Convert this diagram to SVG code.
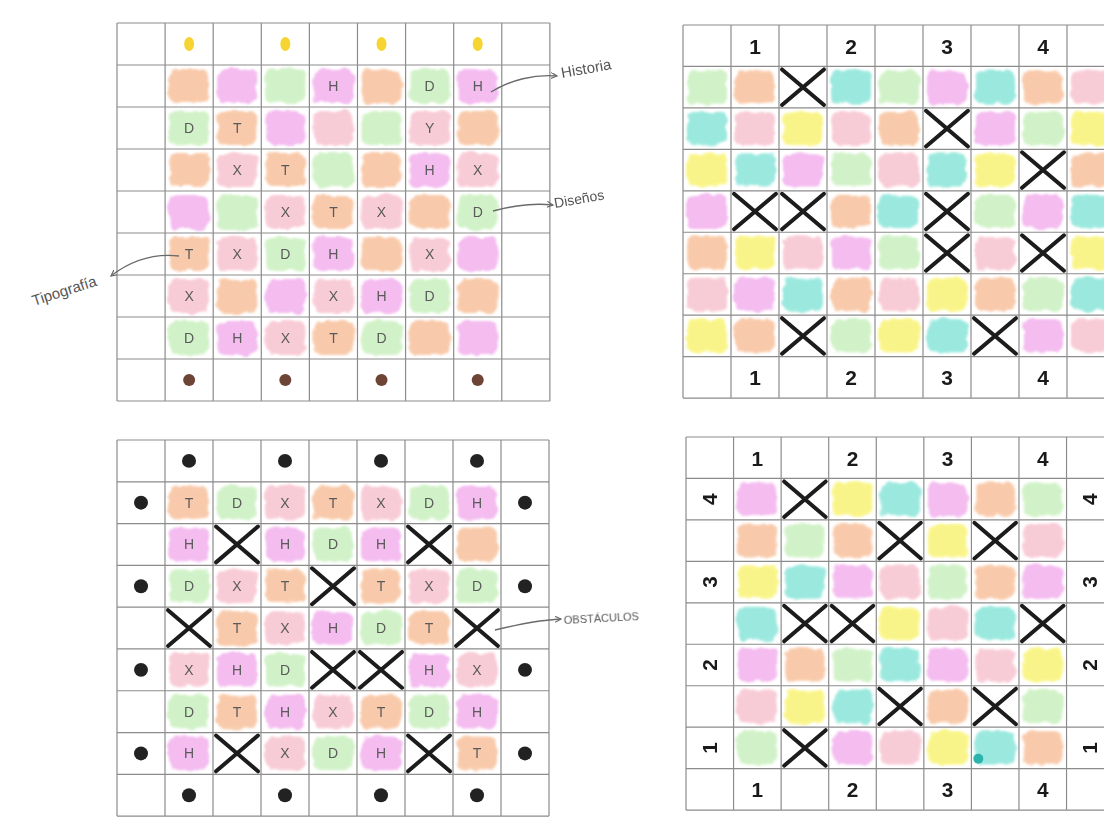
<svg xmlns="http://www.w3.org/2000/svg" xmlns:xlink="http://www.w3.org/1999/xlink" width="1104" height="819" viewBox="0 0 1104 819">
<style>
.bg{fill:#ffffff}
.gl{fill:none;stroke:#8c8c8c;stroke-width:1.2}
.o{fill:#f8c6a4}
.v{fill:#f3b6ee}
.g{fill:#cdf1c3}
.p{fill:#f8c8d4}
.c{fill:#93e7dc}
.y{fill:#f9f47f}
.xm{fill:none;stroke:#1c1c1c;stroke-width:4;stroke-linecap:round}
.t{font-family:"Liberation Sans",Arial,sans-serif;font-size:14px;fill:#5a5a5a;text-anchor:middle}
.n{font-family:"Liberation Sans",Arial,sans-serif;font-size:21px;font-weight:bold;fill:#1a1a1a;text-anchor:middle}
.dk{fill:#222222}
.br{fill:#6e4436}
.yd{fill:#f6d532}
.lbl{font-family:"Liberation Sans",Arial,sans-serif;fill:#555555}
.conn{fill:none;stroke:#6a6a6a;stroke-width:1.3}
</style>
<defs>
<path id="grid" d="M0 0H432M0 42H432M0 84H432M0 126H432M0 168H432M0 210H432M0 252H432M0 294H432M0 336H432M0 378H432M0 0V378M48 0V378M96 0V378M144 0V378M192 0V378M240 0V378M288 0V378M336 0V378M384 0V378M432 0V378"/>
<rect id="pt" width="40" height="34" rx="8"/>
<path id="xm" d="M3 3L45 39M45 3L3 39"/>
<circle id="dot" r="7"/>
<ellipse id="ydot" rx="5" ry="7"/>
<filter id="rough" x="-5%" y="-5%" width="110%" height="110%">
<feTurbulence type="fractalNoise" baseFrequency="0.09" numOctaves="2" seed="4" result="n"/>
<feDisplacementMap in="SourceGraphic" in2="n" scale="7" xChannelSelector="R" yChannelSelector="G" result="d"/>
<feGaussianBlur in="d" stdDeviation="0.9"/>
</filter>
<marker id="arr" markerWidth="8" markerHeight="8" refX="6" refY="3" orient="auto" markerUnits="userSpaceOnUse">
<path d="M0 0L6 3L0 6" fill="none" stroke="#6a6a6a" stroke-width="1.2"/>
</marker>
</defs>
<rect class="bg" width="1104" height="819"/>

<g id="grid-top-left" transform="translate(117,23) scale(1.002,1)">
<g filter="url(#rough)" opacity="0.92">
<use href="#pt" x="52" y="46" class="o"/><use href="#pt" x="100" y="46" class="v"/><use href="#pt" x="148" y="46" class="g"/><use href="#pt" x="196" y="46" class="v"/><use href="#pt" x="244" y="46" class="o"/><use href="#pt" x="292" y="46" class="g"/><use href="#pt" x="340" y="46" class="v"/>
<use href="#pt" x="52" y="88" class="g"/><use href="#pt" x="100" y="88" class="o"/><use href="#pt" x="148" y="88" class="v"/><use href="#pt" x="196" y="88" class="p"/><use href="#pt" x="244" y="88" class="g"/><use href="#pt" x="292" y="88" class="p"/><use href="#pt" x="340" y="88" class="o"/>
<use href="#pt" x="52" y="130" class="o"/><use href="#pt" x="100" y="130" class="p"/><use href="#pt" x="148" y="130" class="o"/><use href="#pt" x="196" y="130" class="g"/><use href="#pt" x="244" y="130" class="o"/><use href="#pt" x="292" y="130" class="v"/><use href="#pt" x="340" y="130" class="p"/>
<use href="#pt" x="52" y="172" class="v"/><use href="#pt" x="100" y="172" class="g"/><use href="#pt" x="148" y="172" class="p"/><use href="#pt" x="196" y="172" class="o"/><use href="#pt" x="244" y="172" class="p"/><use href="#pt" x="292" y="172" class="o"/><use href="#pt" x="340" y="172" class="g"/>
<use href="#pt" x="52" y="214" class="o"/><use href="#pt" x="100" y="214" class="p"/><use href="#pt" x="148" y="214" class="g"/><use href="#pt" x="196" y="214" class="v"/><use href="#pt" x="244" y="214" class="o"/><use href="#pt" x="292" y="214" class="p"/><use href="#pt" x="340" y="214" class="v"/>
<use href="#pt" x="52" y="256" class="p"/><use href="#pt" x="100" y="256" class="o"/><use href="#pt" x="148" y="256" class="v"/><use href="#pt" x="196" y="256" class="p"/><use href="#pt" x="244" y="256" class="v"/><use href="#pt" x="292" y="256" class="g"/><use href="#pt" x="340" y="256" class="o"/>
<use href="#pt" x="52" y="298" class="g"/><use href="#pt" x="100" y="298" class="v"/><use href="#pt" x="148" y="298" class="p"/><use href="#pt" x="196" y="298" class="o"/><use href="#pt" x="244" y="298" class="g"/><use href="#pt" x="292" y="298" class="o"/><use href="#pt" x="340" y="298" class="v"/>
</g>
<use href="#grid" class="gl"/>
<use href="#ydot" x="72" y="21" class="yd"/><use href="#ydot" x="168" y="21" class="yd"/><use href="#ydot" x="264" y="21" class="yd"/><use href="#ydot" x="360" y="21" class="yd"/>
<circle cx="72" cy="357" r="6" class="br"/><circle cx="168" cy="357" r="6" class="br"/><circle cx="264" cy="357" r="6" class="br"/><circle cx="360" cy="357" r="6" class="br"/>
<g class="t">
<text x="216" y="68">H</text><text x="312" y="68">D</text><text x="360" y="68">H</text>
<text x="72" y="110">D</text><text x="120" y="110">T</text><text x="312" y="110">Y</text>
<text x="120" y="152">X</text><text x="168" y="152">T</text><text x="312" y="152">H</text><text x="360" y="152">X</text>
<text x="168" y="194">X</text><text x="216" y="194">T</text><text x="264" y="194">X</text><text x="360" y="194">D</text>
<text x="72" y="236">T</text><text x="120" y="236">X</text><text x="168" y="236">D</text><text x="216" y="236">H</text><text x="312" y="236">X</text>
<text x="72" y="278">X</text><text x="216" y="278">X</text><text x="264" y="278">H</text><text x="312" y="278">D</text>
<text x="72" y="320">D</text><text x="120" y="320">H</text><text x="168" y="320">X</text><text x="216" y="320">T</text><text x="264" y="320">D</text>
</g>
</g>

<g id="grid-top-right" transform="translate(683,25) scale(1,0.987)">
<g filter="url(#rough)" opacity="0.92">
<use href="#pt" x="4" y="46" class="g"/><use href="#pt" x="52" y="46" class="o"/><use href="#pt" x="148" y="46" class="c"/><use href="#pt" x="196" y="46" class="g"/><use href="#pt" x="244" y="46" class="v"/><use href="#pt" x="292" y="46" class="c"/><use href="#pt" x="340" y="46" class="o"/><use href="#pt" x="388" y="46" class="p"/>
<use href="#pt" x="4" y="88" class="c"/><use href="#pt" x="52" y="88" class="p"/><use href="#pt" x="100" y="88" class="y"/><use href="#pt" x="148" y="88" class="p"/><use href="#pt" x="196" y="88" class="o"/><use href="#pt" x="292" y="88" class="v"/><use href="#pt" x="340" y="88" class="g"/><use href="#pt" x="388" y="88" class="y"/>
<use href="#pt" x="4" y="130" class="y"/><use href="#pt" x="52" y="130" class="c"/><use href="#pt" x="100" y="130" class="v"/><use href="#pt" x="148" y="130" class="g"/><use href="#pt" x="196" y="130" class="p"/><use href="#pt" x="244" y="130" class="c"/><use href="#pt" x="292" y="130" class="y"/><use href="#pt" x="388" y="130" class="o"/>
<use href="#pt" x="4" y="172" class="v"/><use href="#pt" x="148" y="172" class="o"/><use href="#pt" x="196" y="172" class="c"/><use href="#pt" x="292" y="172" class="g"/><use href="#pt" x="340" y="172" class="v"/><use href="#pt" x="388" y="172" class="c"/>
<use href="#pt" x="4" y="214" class="o"/><use href="#pt" x="52" y="214" class="y"/><use href="#pt" x="100" y="214" class="p"/><use href="#pt" x="148" y="214" class="v"/><use href="#pt" x="196" y="214" class="g"/><use href="#pt" x="292" y="214" class="p"/><use href="#pt" x="388" y="214" class="y"/>
<use href="#pt" x="4" y="256" class="p"/><use href="#pt" x="52" y="256" class="v"/><use href="#pt" x="100" y="256" class="c"/><use href="#pt" x="148" y="256" class="o"/><use href="#pt" x="196" y="256" class="p"/><use href="#pt" x="244" y="256" class="y"/><use href="#pt" x="292" y="256" class="o"/><use href="#pt" x="340" y="256" class="g"/><use href="#pt" x="388" y="256" class="c"/>
<use href="#pt" x="4" y="298" class="y"/><use href="#pt" x="52" y="298" class="o"/><use href="#pt" x="148" y="298" class="g"/><use href="#pt" x="196" y="298" class="y"/><use href="#pt" x="244" y="298" class="c"/><use href="#pt" x="340" y="298" class="v"/><use href="#pt" x="388" y="298" class="p"/>
</g>
<use href="#grid" class="gl"/>
<g class="xm">
<use href="#xm" x="96" y="42"/><use href="#xm" x="240" y="84"/><use href="#xm" x="336" y="126"/><use href="#xm" x="48" y="168"/><use href="#xm" x="96" y="168"/><use href="#xm" x="240" y="168"/><use href="#xm" x="240" y="210"/><use href="#xm" x="336" y="210"/><use href="#xm" x="96" y="294"/><use href="#xm" x="288" y="294"/>
</g>
<g class="n">
<text x="72" y="29">1</text><text x="168" y="29">2</text><text x="264" y="29">3</text><text x="360" y="29">4</text>
<text x="72" y="365">1</text><text x="168" y="365">2</text><text x="264" y="365">3</text><text x="360" y="365">4</text>
</g>
</g>

<g id="grid-bottom-left" transform="translate(117,440) scale(1,0.995)">
<g filter="url(#rough)" opacity="0.92">
<use href="#pt" x="52" y="46" class="o"/><use href="#pt" x="100" y="46" class="g"/><use href="#pt" x="148" y="46" class="p"/><use href="#pt" x="196" y="46" class="o"/><use href="#pt" x="244" y="46" class="p"/><use href="#pt" x="292" y="46" class="g"/><use href="#pt" x="340" y="46" class="v"/>
<use href="#pt" x="52" y="88" class="v"/><use href="#pt" x="148" y="88" class="v"/><use href="#pt" x="196" y="88" class="g"/><use href="#pt" x="244" y="88" class="v"/><use href="#pt" x="340" y="88" class="o"/>
<use href="#pt" x="52" y="130" class="g"/><use href="#pt" x="100" y="130" class="p"/><use href="#pt" x="148" y="130" class="o"/><use href="#pt" x="244" y="130" class="o"/><use href="#pt" x="292" y="130" class="p"/><use href="#pt" x="340" y="130" class="g"/>
<use href="#pt" x="100" y="172" class="o"/><use href="#pt" x="148" y="172" class="p"/><use href="#pt" x="196" y="172" class="v"/><use href="#pt" x="244" y="172" class="g"/><use href="#pt" x="292" y="172" class="o"/>
<use href="#pt" x="52" y="214" class="p"/><use href="#pt" x="100" y="214" class="v"/><use href="#pt" x="148" y="214" class="g"/><use href="#pt" x="292" y="214" class="v"/><use href="#pt" x="340" y="214" class="p"/>
<use href="#pt" x="52" y="256" class="g"/><use href="#pt" x="100" y="256" class="o"/><use href="#pt" x="148" y="256" class="v"/><use href="#pt" x="196" y="256" class="p"/><use href="#pt" x="244" y="256" class="o"/><use href="#pt" x="292" y="256" class="g"/><use href="#pt" x="340" y="256" class="v"/>
<use href="#pt" x="52" y="298" class="v"/><use href="#pt" x="148" y="298" class="p"/><use href="#pt" x="196" y="298" class="g"/><use href="#pt" x="244" y="298" class="v"/><use href="#pt" x="340" y="298" class="o"/>
</g>
<use href="#grid" class="gl"/>
<g class="dk">
<use href="#dot" x="72" y="21"/><use href="#dot" x="168" y="21"/><use href="#dot" x="264" y="21"/><use href="#dot" x="360" y="21"/>
<use href="#dot" x="72" y="357"/><use href="#dot" x="168" y="357"/><use href="#dot" x="264" y="357"/><use href="#dot" x="360" y="357"/>
<use href="#dot" x="24" y="63"/><use href="#dot" x="408" y="63"/><use href="#dot" x="24" y="147"/><use href="#dot" x="408" y="147"/><use href="#dot" x="24" y="231"/><use href="#dot" x="408" y="231"/><use href="#dot" x="24" y="315"/><use href="#dot" x="408" y="315"/>
</g>
<g class="xm">
<use href="#xm" x="96" y="84"/><use href="#xm" x="288" y="84"/><use href="#xm" x="192" y="126"/><use href="#xm" x="48" y="168"/><use href="#xm" x="336" y="168"/><use href="#xm" x="192" y="210"/><use href="#xm" x="240" y="210"/><use href="#xm" x="96" y="294"/><use href="#xm" x="288" y="294"/>
</g>
<g class="t">
<text x="72" y="68">T</text><text x="120" y="68">D</text><text x="168" y="68">X</text><text x="216" y="68">T</text><text x="264" y="68">X</text><text x="312" y="68">D</text><text x="360" y="68">H</text>
<text x="72" y="110">H</text><text x="168" y="110">H</text><text x="216" y="110">D</text><text x="264" y="110">H</text>
<text x="72" y="152">D</text><text x="120" y="152">X</text><text x="168" y="152">T</text><text x="264" y="152">T</text><text x="312" y="152">X</text><text x="360" y="152">D</text>
<text x="120" y="194">T</text><text x="168" y="194">X</text><text x="216" y="194">H</text><text x="264" y="194">D</text><text x="312" y="194">T</text>
<text x="72" y="236">X</text><text x="120" y="236">H</text><text x="168" y="236">D</text><text x="312" y="236">H</text><text x="360" y="236">X</text>
<text x="72" y="278">D</text><text x="120" y="278">T</text><text x="168" y="278">H</text><text x="216" y="278">X</text><text x="264" y="278">T</text><text x="312" y="278">D</text><text x="360" y="278">H</text>
<text x="72" y="320">H</text><text x="168" y="320">X</text><text x="216" y="320">D</text><text x="264" y="320">H</text><text x="360" y="320">T</text>
</g>
</g>

<g id="grid-bottom-right" transform="translate(686,437) scale(0.991,0.987)">
<g filter="url(#rough)" opacity="0.92">
<use href="#pt" x="52" y="46" class="v"/><use href="#pt" x="148" y="46" class="y"/><use href="#pt" x="196" y="46" class="c"/><use href="#pt" x="244" y="46" class="v"/><use href="#pt" x="292" y="46" class="o"/><use href="#pt" x="340" y="46" class="g"/>
<use href="#pt" x="52" y="88" class="o"/><use href="#pt" x="100" y="88" class="g"/><use href="#pt" x="148" y="88" class="o"/><use href="#pt" x="244" y="88" class="y"/><use href="#pt" x="340" y="88" class="p"/>
<use href="#pt" x="52" y="130" class="y"/><use href="#pt" x="100" y="130" class="c"/><use href="#pt" x="148" y="130" class="v"/><use href="#pt" x="196" y="130" class="p"/><use href="#pt" x="244" y="130" class="g"/><use href="#pt" x="292" y="130" class="o"/><use href="#pt" x="340" y="130" class="v"/>
<use href="#pt" x="52" y="172" class="c"/><use href="#pt" x="196" y="172" class="y"/><use href="#pt" x="244" y="172" class="p"/><use href="#pt" x="292" y="172" class="c"/>
<use href="#pt" x="52" y="214" class="v"/><use href="#pt" x="100" y="214" class="o"/><use href="#pt" x="148" y="214" class="g"/><use href="#pt" x="196" y="214" class="c"/><use href="#pt" x="244" y="214" class="v"/><use href="#pt" x="292" y="214" class="p"/><use href="#pt" x="340" y="214" class="y"/>
<use href="#pt" x="52" y="256" class="p"/><use href="#pt" x="100" y="256" class="y"/><use href="#pt" x="148" y="256" class="c"/><use href="#pt" x="244" y="256" class="o"/><use href="#pt" x="340" y="256" class="g"/>
<use href="#pt" x="52" y="298" class="g"/><use href="#pt" x="148" y="298" class="v"/><use href="#pt" x="196" y="298" class="p"/><use href="#pt" x="244" y="298" class="y"/><use href="#pt" x="292" y="298" class="c"/><use href="#pt" x="340" y="298" class="o"/>
</g>
<circle cx="295" cy="326" r="5" fill="#2bb3ad"/>
<use href="#grid" class="gl"/>
<g class="xm">
<use href="#xm" x="96" y="42"/><use href="#xm" x="192" y="84"/><use href="#xm" x="288" y="84"/><use href="#xm" x="96" y="168"/><use href="#xm" x="144" y="168"/><use href="#xm" x="336" y="168"/><use href="#xm" x="192" y="252"/><use href="#xm" x="288" y="252"/><use href="#xm" x="96" y="294"/>
</g>
<g class="n">
<text x="72" y="29">1</text><text x="168" y="29">2</text><text x="264" y="29">3</text><text x="360" y="29">4</text>
<text x="72" y="365">1</text><text x="168" y="365">2</text><text x="264" y="365">3</text><text x="360" y="365">4</text>
<text transform="translate(24,63) rotate(-90)" y="7">4</text><text transform="translate(408,63) rotate(-90)" y="7">4</text>
<text transform="translate(24,147) rotate(-90)" y="7">3</text><text transform="translate(408,147) rotate(-90)" y="7">3</text>
<text transform="translate(24,231) rotate(-90)" y="7">2</text><text transform="translate(408,231) rotate(-90)" y="7">2</text>
<text transform="translate(24,315) rotate(-90)" y="7">1</text><text transform="translate(408,315) rotate(-90)" y="7">1</text>
</g>
</g>

<g id="connectors">
<path class="conn" d="M491 92C510 80 535 74 557 76" marker-end="url(#arr)"/>
<path class="conn" d="M493 211C515 205 535 203 553 205" marker-end="url(#arr)"/>
<path class="conn" d="M179 256C152 253 129 262 111 276" marker-end="url(#arr)"/>
<path class="conn" d="M495 630C520 624 540 620 561 619" marker-end="url(#arr)"/>
</g>
<g id="label-historia"><text class="lbl" x="562" y="78" font-size="15" transform="rotate(-10 562 78)">Historia</text></g>
<g id="label-disenos"><text class="lbl" x="555" y="208" font-size="14" transform="rotate(-10 555 208)">Diseños</text></g>
<g id="label-tipografia"><text class="lbl" x="34" y="306" font-size="15" transform="rotate(-18 34 306)">Tipografía</text></g>
<g id="label-obstaculos"><text class="lbl" x="564" y="624" font-size="11" transform="rotate(-3 564 624)">OBSTÁCULOS</text></g>
</svg>
